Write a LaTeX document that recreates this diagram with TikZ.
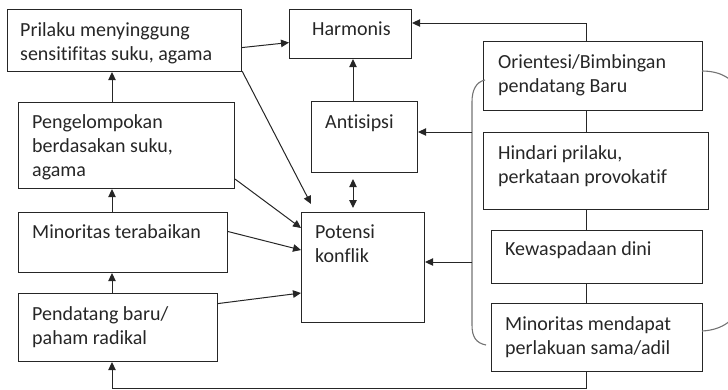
\documentclass[tikz,border=0pt]{standalone}
\usepackage{fontspec}
\setmainfont{Carlito}[Ligatures={NoCommon}]
\usetikzlibrary{arrows.meta}
\newcommand{\fl}{\rule{0pt}{14pt}}
\begin{document}
\begin{tikzpicture}[x=1pt,y=-1pt,
  box/.style={draw=black!85, line width=1.1pt, rectangle, inner sep=0pt, anchor=north west},
  txt/.style={inner sep=0pt, anchor=north west, align=left, font=\fontsize{20}{24}\selectfont, text=black!85},
  conn/.style={draw=black!85, line width=1pt},
  arr/.style={conn, -{Triangle[length=8pt,width=7.5pt]}},
  darr/.style={conn, {Triangle[length=8pt,width=7.5pt]}-{Triangle[length=8pt,width=7.5pt]}},
  brk/.style={draw=black!55, line width=1.1pt}]
\clip (0,0) rectangle (728,389);
\useasboundingbox (0,0) rectangle (728,389);
% boxes
\node[box, minimum width=234pt, minimum height=62pt] (prilaku) at (7,9) {};
\node[box, minimum width=216pt, minimum height=86pt] (kelompok) at (18,102) {};
\node[box, minimum width=209pt, minimum height=60pt] (minor) at (18,212) {};
\node[box, minimum width=199pt, minimum height=68pt] (pend) at (18,293) {};
\node[box, minimum width=122pt, minimum height=49pt] (harm) at (289,9) {};
\node[box, minimum width=106pt, minimum height=71pt] (anti) at (311,101) {};
\node[box, minimum width=123pt, minimum height=110pt] (pot) at (301,212) {};
\node[box, minimum width=219pt, minimum height=69pt] (orient) at (483,41) {};
\node[box, minimum width=225pt, minimum height=77pt] (hind) at (483,132) {};
\node[box, minimum width=211pt, minimum height=53pt] (kew) at (491,230) {};
\node[box, minimum width=211pt, minimum height=68pt] (minr) at (491,303) {};
% texts
\node[txt] (prilakuT) at (20,22) {\fl Prilaku menyinggung\\sensitifitas suku, agama};
\node[txt] (kelompokT) at (32,114) {\fl Pengelompokan\\berdasakan suku,\\agama};
\node[txt] (minorT) at (32,224) {\fl Minoritas terabaikan};
\node[txt] (pendT) at (32,306) {\fl Pendatang baru/\\paham radikal};
\node[txt] (harmT) at (312,21) {\fl Harmonis};
\node[txt] (antiT) at (325,114) {\fl Antisipsi};
\node[txt] (potT) at (315,224) {\fl Potensi\\konflik};
\node[txt] (orientT) at (498,54) {\fl Orientesi/Bimbingan\\pendatang Baru};
\node[txt] (hindT) at (498,145) {\fl Hindari prilaku,\\perkataan provokatif};
\node[txt] (kewT) at (505,241) {\fl Kewaspadaan dini};
\node[txt] (minrT) at (505,316) {\fl Minoritas mendapat\\perlakuan sama/adil};
% left column arrows
\coordinate (colL) at (112,0);
\draw[arr] (colL |- kelompok.north) -- (colL |- prilaku.south);
\draw[arr] (colL |- minor.north) -- (colL |- kelompok.south);
\draw[arr] (colL |- pend.north) -- (colL |- minor.south);
% arrows to harmonis / potensi
\draw[arr] ([yshift=-7pt]prilaku.east) -- ([yshift=-8.5pt]harm.west);
\draw[arr] ([yshift=1pt]prilaku.south east) -- ([xshift=10pt,yshift=8pt]pot.north west);
\draw[arr] ([yshift=10pt]kelompok.south east) -- ([yshift=-16pt]pot.north west);
\draw[arr] ([yshift=11pt]minor.east) -- ([yshift=-38pt]pot.north west);
\draw[arr] ([yshift=24pt]pend.east) -- ([yshift=-81pt]pot.north west);
% center column
\coordinate (colC) at (353,0);
\draw[arr] (colC |- anti.north) -- (colC |- harm.south);
\draw[darr] ([yshift=-6pt]colC |- anti.south) -- ([yshift=4pt]colC |- pot.north);
% right chain
\coordinate (top) at (586,23);
\coordinate (bot) at (586,388);
\coordinate (botL) at (112,388);
\draw[arr] (top |- orient.north) -- (top) -- (top -| harm.east);
\draw[conn] (top |- orient.south) -- (top |- hind.north);
\draw[conn] (top |- hind.south) -- (top |- kew.north);
\draw[conn] (top |- kew.south) -- (top |- minr.north);
\draw[arr] (top |- minr.south) -- (bot) -- (botL) -- (botL |- pend.south);
% left bracket
\draw[brk] (485,80) .. controls (476,82) and (472,90) .. (472,102) -- (472,325) .. controls (472,337) and (476,343) .. (486,345);
\coordinate (b1) at (472,132);
\coordinate (b2) at (472,262);
\draw[arr] (b1) -- (b1 -| anti.east);
\draw[arr] (b2) -- (b2 -| pot.east);
% right bracket
\draw[brk] (702,71) .. controls (722,71) and (738,80) .. (740,100) -- (740,300) .. controls (738,320) and (722,330) .. (702,331);
\end{tikzpicture}
\end{document}
